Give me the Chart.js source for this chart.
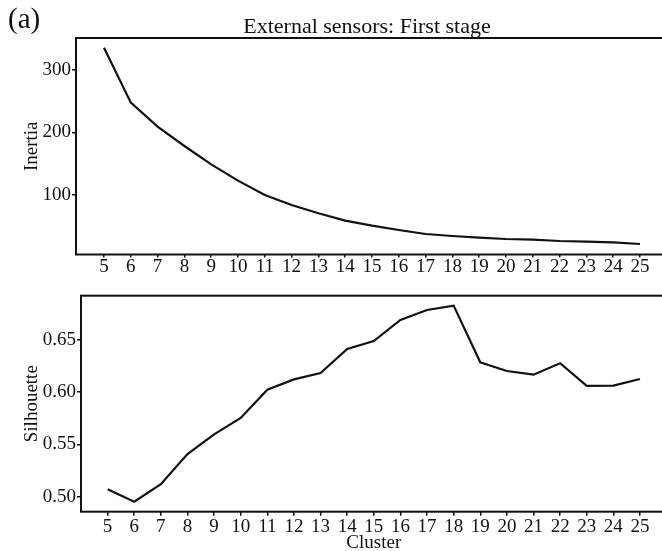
<!DOCTYPE html>
<html>
<head>
<meta charset="utf-8">
<script src="https://cdn.jsdelivr.net/npm/chart.js@4.4.0/dist/chart.umd.min.js"></script>
<style>
  html, body { margin: 0; padding: 0; background: #fff; overflow: hidden; width: 662px; height: 551px; }
  canvas { position: absolute; left: 0; }
  #c1 { top: 0; }
  #c2 { top: 285px; }
</style>
</head>
<body>
<canvas id="c1" width="680" height="285"></canvas>
<canvas id="c2" width="680" height="272"></canvas>
<script>
// Number of clusters evaluated
const clusters = [5, 6, 7, 8, 9, 10, 11, 12, 13, 14, 15, 16, 17, 18, 19, 20, 21, 22, 23, 24, 25];

// Elbow curve (inertia) per cluster count
const inertia = [335.7, 247.7, 209.3, 178.4, 149, 123, 100, 84, 70.7, 59, 50.9, 44, 37.6, 34.4, 31.7, 29.6, 28.5, 26.4, 25.3, 24.3, 21.6];

// Mean silhouette score per cluster count
const silhouette = [0.507, 0.4952, 0.512, 0.5408, 0.5597, 0.5753, 0.6024, 0.6123, 0.6184, 0.6414, 0.649, 0.6692, 0.6787, 0.6829, 0.6286, 0.6203, 0.6168, 0.6277, 0.606, 0.6063, 0.6126];

// Tick values
const xTicks = clusters;
const inertiaTicks = [100, 200, 300];
const silhouetteTicks = [0.50, 0.55, 0.60, 0.65];

const SERIF = "'Liberation Serif', 'DejaVu Serif', serif";

// Closed box around the plotting area
const framePlugin = {
  id: 'frame',
  afterDraw(chart) {
    const { ctx, chartArea: a } = chart;
    ctx.save();
    ctx.strokeStyle = '#111';
    ctx.lineWidth = 2;
    ctx.strokeRect(a.left, a.top, a.right - a.left, a.bottom - a.top);
    ctx.restore();
  }
};

// Panel letter and figure heading
const headingPlugin = {
  id: 'heading',
  afterDraw(chart) {
    const { ctx } = chart;
    ctx.save();
    ctx.fillStyle = '#111';
    ctx.textBaseline = 'alphabetic';
    ctx.textAlign = 'left';
    ctx.font = "29px " + SERIF;
    ctx.fillText('(a)', 8, 28);
    ctx.textAlign = 'center';
    ctx.font = "22px " + SERIF;
    ctx.fillText('External sensors: First stage', 367, 33);
    ctx.restore();
  }
};

function toPoints(values) {
  return clusters.map((c, i) => ({ x: c, y: values[i] }));
}

function makeChart(canvas, cfg) {
  return new Chart(canvas, {
    type: 'line',
    data: {
      datasets: [{
        data: toPoints(cfg.values),
        borderColor: '#111',
        borderWidth: 2.2,
        pointRadius: 0,
        tension: 0,
        fill: false
      }]
    },
    options: {
      responsive: false,
      animation: false,
      devicePixelRatio: 1,
      layout: { padding: { top: cfg.padTop, left: 0, right: cfg.padRight, bottom: 0 } },
      plugins: { legend: { display: false }, tooltip: { enabled: false } },
      scales: {
        x: {
          type: 'linear',
          min: cfg.xMin,
          max: cfg.xMax,
          afterBuildTicks(scale) { scale.ticks = xTicks.map(v => ({ value: v })); },
          afterFit(scale) { scale.height = cfg.xHeight; },
          grid: { display: true, drawOnChartArea: false, drawTicks: true, tickLength: cfg.xTickLen, color: '#111', lineWidth: 1.5 },
          border: { display: false },
          ticks: {
            color: '#111',
            padding: cfg.xTickPad,
            maxRotation: 0,
            autoSkip: false,
            font: { family: SERIF, size: 19, lineHeight: 1 }
          },
          title: cfg.xTitle ? {
            display: true,
            text: cfg.xTitle,
            color: '#111',
            font: { family: SERIF, size: 19, lineHeight: 1.2 },
            padding: { top: 0, bottom: cfg.xTitlePad }
          } : { display: false }
        },
        y: {
          type: 'linear',
          min: cfg.yMin,
          max: cfg.yMax,
          afterBuildTicks(scale) { scale.ticks = cfg.yTicks.map(v => ({ value: v })); },
          afterFit(scale) { scale.width = cfg.yWidth; },
          grid: { display: true, drawOnChartArea: false, drawTicks: true, tickLength: 4, color: '#111', lineWidth: 1.5 },
          border: { display: false },
          ticks: {
            color: '#111',
            padding: 1,
            callback: cfg.yFormat,
            font: { family: SERIF, size: 19, lineHeight: 1 }
          },
          title: {
            display: true,
            text: cfg.yTitle,
            color: '#111',
            font: { family: SERIF, size: 19, lineHeight: 1.2 },
            padding: { top: 20.6, bottom: 0 }
          }
        }
      }
    },
    plugins: cfg.plugins
  });
}

// Upper panel: inertia
makeChart(document.getElementById('c1'), {
  values: inertia,
  padTop: 38,
  padRight: 12,
  xMin: 3.955,
  xMax: 26.045,
  xHeight: 30.5,
  xTickLen: 3,
  xTickPad: 0,
  yMin: 4.8,
  yMax: 351.2,
  yTicks: inertiaTicks,
  yWidth: 76,
  yTitle: 'Inertia',
  yFormat: v => String(v),
  plugins: [framePlugin, headingPlugin]
});

// Lower panel: silhouette
makeChart(document.getElementById('c2'), {
  values: silhouette,
  padTop: 10.7,
  padRight: 13.4,
  xMin: 4.0,
  xMax: 26.0,
  xHeight: 45.3,
  xTickLen: 4,
  xTickPad: 2,
  xTitle: 'Cluster',
  xTitlePad: 2.6,
  yMin: 0.4856,
  yMax: 0.6924,
  yTicks: silhouetteTicks,
  yWidth: 81,
  yTitle: 'Silhouette',
  yFormat: v => Number(v).toFixed(2),
  plugins: [framePlugin]
});
</script>
</body>
</html>
